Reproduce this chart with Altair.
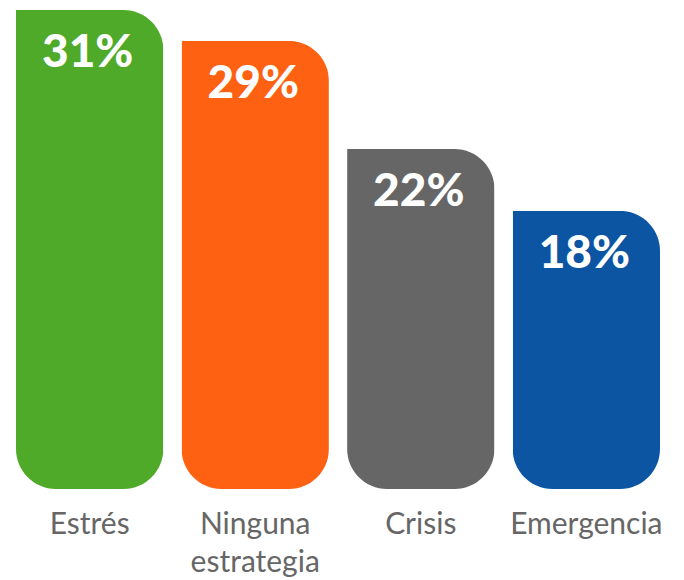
import altair as alt
import pandas as pd

categories = ["Estrés", "Ninguna\nestrategia", "Crisis", "Emergencia"]
values = [31, 29, 22, 18]
colors = ["#4FAA2A", "#FF6112", "#666666", "#0B55A3"]

df = pd.DataFrame({
    "cat": categories,
    "value": values,
    "color": colors,
    "label": [f"{v}%" for v in values],
})

x = alt.X("cat:N", sort=categories, axis=None,
          scale=alt.Scale(paddingInner=0.11, paddingOuter=0))
y = alt.Y("value:Q", axis=None, scale=alt.Scale(domain=[0, 31.13], nice=False))

bars = alt.Chart(df).mark_bar(
    cornerRadiusTopLeft=0, cornerRadiusTopRight=40,
    cornerRadiusBottomLeft=40, cornerRadiusBottomRight=40,
).encode(x=x, y=y, color=alt.Color("color:N", scale=None))

nums = alt.Chart(df).mark_text(
    font="Lato", fontWeight=900, fontSize=46, color="white",
    baseline="alphabetic", align="center", dy=57, dx=-2,
).encode(x=x, y=y, text="label:N")

cats = alt.Chart(df).mark_text(
    font="Lato", fontSize=30, color="#666666", baseline="top",
    align="center", lineBreak="\n", lineHeight=38,
).encode(x=x, y=alt.value(502), text="cat:N")

chart = alt.layer(bars, nums, cats).properties(
    width=644, height=481,
    autosize=alt.AutoSizeParams(type="none"),
    padding={"left": 8, "top": 0, "right": 16, "bottom": 90},
).configure_view(stroke=None)

chart.save("out.html", embed_options={"renderer": "svg", "actions": False})
